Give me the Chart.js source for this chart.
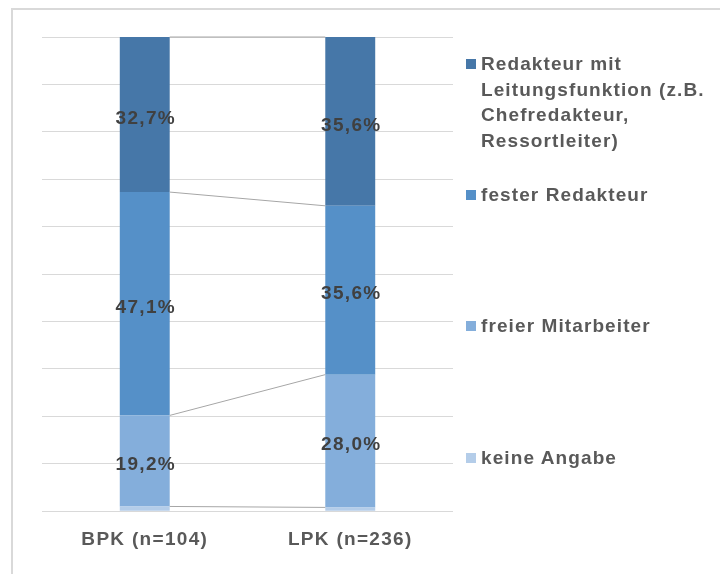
<!DOCTYPE html>
<html>
<head>
<meta charset="utf-8">
<script src="https://cdn.jsdelivr.net/npm/chart.js@4.4.1/dist/chart.umd.min.js"></script>
<style>
  body { margin: 0; background: #fff; font-family: "Liberation Sans", Arial, sans-serif; }
  #wrap { position: relative; width: 720px; height: 574px; overflow: hidden; }
  #frame { position: absolute; left: 11px; top: 8px; width: 760px; height: 620px; border: 2px solid #d9d9d9; box-sizing: border-box; }
  #chart { position: absolute; left: 0; top: 0; }
  .leg { position: absolute; left: 466px; color: #595959; font-weight: bold; font-size: 19px; line-height: 25.5px; letter-spacing: 1.1px; white-space: nowrap; }
  .leg span.box { position: absolute; left: 0; top: 8px; width: 10px; height: 10px; }
  .leg div { padding-left: 15px; }
</style>
</head>
<body>
<div id="wrap">
  <div id="frame"></div>
  <canvas id="chart" width="720" height="574"></canvas>
  <div id="legend"></div>
</div>
<script>
// categories and values (percent)
var categories = ["BPK (n=104)", "LPK (n=236)"];
var seriesNames = ["keine Angabe", "freier Mitarbeiter", "fester Redakteur", "Redakteur mit Leitungsfunktion (z.B. Chefredakteur, Ressortleiter)"];
var keineAngabe = [1.0, 0.8];
var freierMitarbeiter = [19.2, 28.0];
var festerRedakteur = [47.1, 35.6];
var redakteurLeitung = [32.7, 35.6];
var colors = ["#b4cde9", "#84aedb", "#5590c8", "#4677a8"];
var yTicks = [0, 10, 20, 30, 40, 50, 60, 70, 80, 90, 100];

var allSeries = [keineAngabe, freierMitarbeiter, festerRedakteur, redakteurLeitung];

var datasets = allSeries.map(function (vals, i) {
  return {
    label: seriesNames[i],
    data: vals,
    backgroundColor: colors[i],
    borderWidth: 0,
    categoryPercentage: 1,
    barPercentage: 0.243,
    showValue: i > 0
  };
});

// slightly wider text like the original
var spacing = {
  id: "spacing",
  beforeInit: function (chart) { chart.ctx.letterSpacing = "1.3px"; },
  beforeDraw: function (chart) { chart.ctx.letterSpacing = "1.3px"; }
};

// thin lines connecting the top of each segment between the bars
var seriesLines = {
  id: "seriesLines",
  afterDatasetsDraw: function (chart) {
    var ctx = chart.ctx;
    ctx.save();
    ctx.strokeStyle = "#a6a6a6";
    ctx.lineWidth = 1;
    chart.data.datasets.forEach(function (ds, i) {
      var meta = chart.getDatasetMeta(i);
      var a = meta.data[0], b = meta.data[1];
      ctx.beginPath();
      ctx.moveTo(a.x + a.width / 2, a.y);
      ctx.lineTo(b.x - b.width / 2, b.y);
      ctx.stroke();
    });
    ctx.restore();
  }
};

// percent labels in the segments
var valueLabels = {
  id: "valueLabels",
  afterDatasetsDraw: function (chart) {
    var ctx = chart.ctx;
    ctx.save();
    ctx.font = "bold 19px 'Liberation Sans', Arial, sans-serif";
    ctx.fillStyle = "#404040";
    ctx.textAlign = "center";
    ctx.textBaseline = "middle";
    chart.data.datasets.forEach(function (ds, i) {
      if (!ds.showValue) return;
      var meta = chart.getDatasetMeta(i);
      meta.data.forEach(function (bar, j) {
        var txt = ds.data[j].toFixed(1).replace(".", ",") + "%";
        ctx.fillText(txt, bar.x + 1, (bar.y + bar.base) / 2 + 4);
      });
    });
    ctx.restore();
  }
};

var ctx = document.getElementById("chart").getContext("2d");
var chart = new Chart(ctx, {
  type: "bar",
  data: { labels: categories, datasets: datasets },
  options: {
    responsive: false,
    animation: false,
    layout: { padding: { left: 42, right: 267, top: 37, bottom: 6 } },
    plugins: { legend: { display: false }, tooltip: { enabled: false } },
    scales: {
      x: {
        stacked: true,
        grid: { display: false, drawTicks: false },
        border: { display: false },
        ticks: {
          color: "#595959",
          padding: 17,
          font: { family: "'Liberation Sans', Arial, sans-serif", size: 19, weight: "bold" }
        }
      },
      y: {
        stacked: true,
        min: 0,
        max: 100,
        afterBuildTicks: function (axis) {
          axis.ticks = yTicks.map(function (v) { return { value: v }; });
        },
        grid: { color: "#d9d9d9", lineWidth: 1, drawTicks: false },
        border: { display: false },
        ticks: { display: false }
      }
    }
  },
  plugins: [spacing, seriesLines, valueLabels]
});

// legend on the right, top item first
var legendTops = [51, 182, 313, 445];
var legendEl = document.getElementById("legend");
for (var k = 0; k < 4; k++) {
  var idx = 3 - k;
  var item = document.createElement("div");
  item.className = "leg";
  item.style.top = legendTops[k] + "px";
  var name = seriesNames[idx];
  if (idx === 3) name = "Redakteur mit<br>Leitungsfunktion (z.B.<br>Chefredakteur,<br>Ressortleiter)";
  item.innerHTML = '<span class="box" style="background:' + colors[idx] + '"></span><div>' + name + "</div>";
  legendEl.appendChild(item);
}
</script>
</body>
</html>
